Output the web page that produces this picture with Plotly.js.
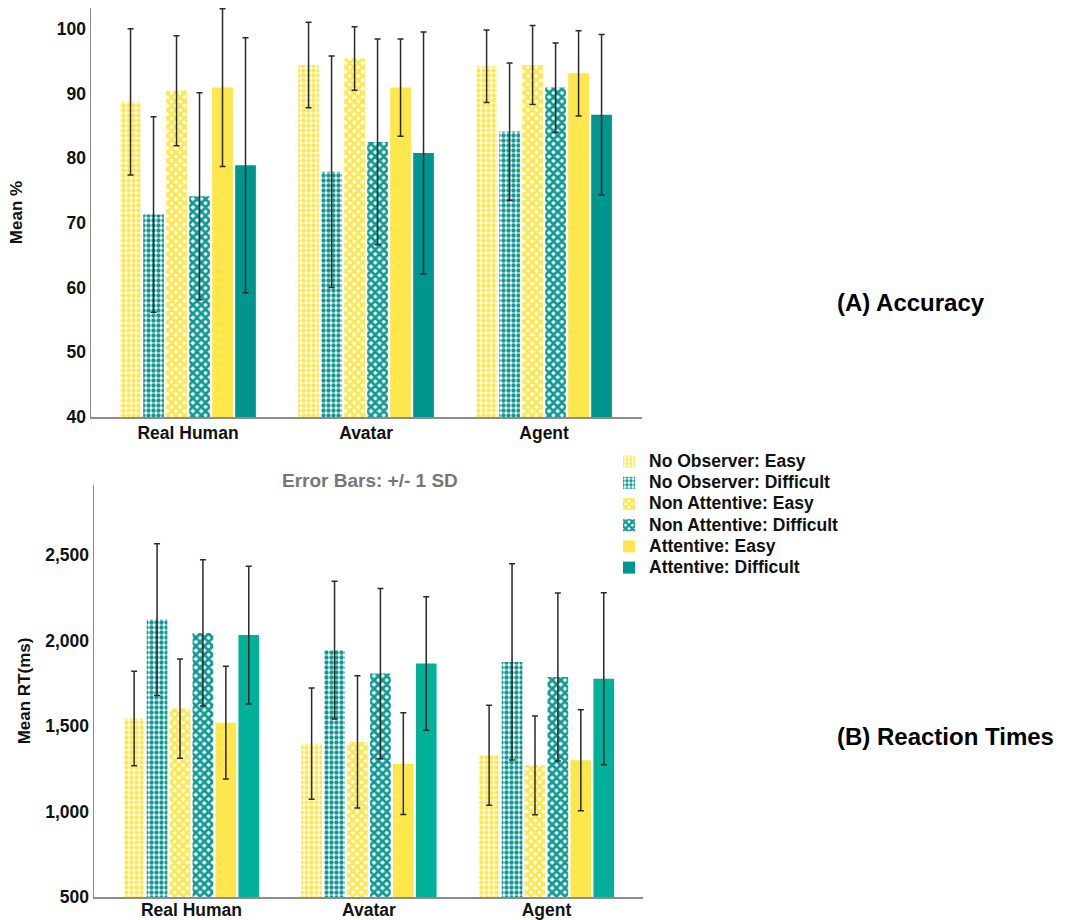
<!DOCTYPE html>
<html>
<head>
<meta charset="utf-8">
<script src="https://cdn.plot.ly/plotly-3.0.1.min.js"></script>
<style>html,body{margin:0;padding:0;background:#fff;}#chart{width:1069px;height:920px;}</style>
</head>
<body>
<div id="chart"></div>
<script>
// ---------- data ----------
const categories = ['Real Human', 'Avatar', 'Agent'];
const seriesNames = ['No Observer: Easy', 'No Observer: Difficult', 'Non Attentive: Easy',
                     'Non Attentive: Difficult', 'Attentive: Easy', 'Attentive: Difficult'];

// (A) Accuracy, mean % and SD
const accNoObsEasy = [88.7, 94.4, 94.2];
const accNoObsEasySD = [11.3, 6.6, 5.6];
const accNoObsDiff = [71.3, 77.9, 84.1];
const accNoObsDiffSD = [15.1, 17.9, 10.6];
const accNonAttEasy = [90.4, 95.4, 94.4];
const accNonAttEasySD = [8.5, 4.9, 6.1];
const accNonAttDiff = [74.1, 82.5, 90.9];
const accNonAttDiffSD = [16.0, 15.9, 6.9];
const accAttEasy = [90.9, 90.9, 93.1];
const accAttEasySD = [12.2, 7.5, 6.6];
const accAttDiff = [78.9, 80.8, 86.7];
const accAttDiffSD = [19.7, 18.7, 12.4];

// (B) Reaction times, mean ms and SD
const rtNoObsEasy = [1544, 1397, 1329];
const rtNoObsEasySD = [276, 325, 293];
const rtNoObsDiff = [2123, 1944, 1875];
const rtNoObsDiffSD = [444, 403, 574];
const rtNonAttEasy = [1602, 1407, 1270];
const rtNonAttEasySD = [290, 387, 289];
const rtNonAttDiff = [2045, 1807, 1787];
const rtNonAttDiffSD = [428, 498, 491];
const rtAttEasy = [1520, 1280, 1300];
const rtAttEasySD = [330, 298, 295];
const rtAttDiff = [2032, 1866, 1776];
const rtAttDiffSD = [403, 390, 503];

const accTickVals = [40, 50, 60, 70, 80, 90, 100];
const rtTickVals = [500, 1000, 1500, 2000, 2500];

// ---------- styles ----------
const FONT = '"Liberation Sans", Arial, sans-serif';
const YEL = '#FDE74C';
const TEAL = '#0E9A94';
const TEAL_SOLID_A = '#00958F';
const TEAL_SOLID_B = '#00B098';

function markerFor(idx, solidTeal) {
  const isEasy = idx % 2 === 0;
  const col = isEasy ? YEL : TEAL;
  if (idx < 2) return {color: '#ffffff', pattern: {shape: '.', fgcolor: col, bgcolor: '#ffffff', size: 5, solidity: 0.6, fillmode: 'replace'}};
  if (idx < 4) return {color: '#ffffff', pattern: {shape: 'x', fgcolor: col, bgcolor: '#ffffff', size: 6, solidity: 0.72, fillmode: 'replace'}};
  return {color: isEasy ? YEL : solidTeal};
}

const accSeries = [accNoObsEasy, accNoObsDiff, accNonAttEasy, accNonAttDiff, accAttEasy, accAttDiff];
const accSD = [accNoObsEasySD, accNoObsDiffSD, accNonAttEasySD, accNonAttDiffSD, accAttEasySD, accAttDiffSD];
const rtSeries = [rtNoObsEasy, rtNoObsDiff, rtNonAttEasy, rtNonAttDiff, rtAttEasy, rtAttDiff];
const rtSD = [rtNoObsEasySD, rtNoObsDiffSD, rtNonAttEasySD, rtNonAttDiffSD, rtAttEasySD, rtAttDiffSD];

const errStyle = {type: 'data', visible: true, color: '#2a2a2a', thickness: 1.5, width: 3};

const traces = [];
accSeries.forEach((vals, i) => {
  traces.push({
    type: 'bar', x: categories, y: vals, name: '<span style="font-size:17.5px">' + seriesNames[i] + '</span>',
    xaxis: 'x', yaxis: 'y', marker: markerFor(i, TEAL_SOLID_A),
    error_y: Object.assign({array: accSD[i]}, errStyle),
    legendgroup: 'g' + i, showlegend: true, hoverinfo: 'y'
  });
});
rtSeries.forEach((vals, i) => {
  traces.push({
    type: 'bar', x: categories, y: vals, name: seriesNames[i],
    xaxis: 'x2', yaxis: 'y2', marker: markerFor(i, TEAL_SOLID_B),
    error_y: Object.assign({array: rtSD[i]}, errStyle),
    legendgroup: 'g' + i, showlegend: false, hoverinfo: 'y'
  });
});

const W = 1069, H = 920;
const px = v => v / W;
const py = v => 1 - v / H;

const axisCommon = {
  showgrid: false, zeroline: false, showline: true, linecolor: '#8c8c8c', linewidth: 1.5,
  ticks: '', tickfont: {family: FONT, size: 17.5, color: '#111', weight: 700}, automargin: false, fixedrange: true
};

const layout = {
  width: W, height: H,
  margin: {l: 0, r: 0, t: 0, b: 0, pad: 0},
  paper_bgcolor: '#ffffff', plot_bgcolor: '#ffffff',
  font: {family: FONT, size: 17, color: '#111', weight: 700},
  barmode: 'group', bargap: 0.225, bargroupgap: 0.1,
  showlegend: true,
  legend: {
    x: px(609), xanchor: 'left', y: py(446), yanchor: 'top',
    bgcolor: 'rgba(0,0,0,0)', borderwidth: 0,
    font: {family: FONT, size: 14, color: '#111', weight: 700},
    traceorder: 'normal'
  },
  xaxis: Object.assign({}, axisCommon, {
    domain: [px(91), px(642)], anchor: 'y', range: [-0.545, 2.55], type: 'category', ticklabelstandoff: -1
  }),
  yaxis: Object.assign({}, axisCommon, {
    domain: [py(417), py(8)], anchor: 'x', range: [40, 103.2],
    tickvals: accTickVals, ticktext: accTickVals.map(String),
    title: {text: 'Mean %', font: {family: FONT, size: 17, color: '#111', weight: 700}, standoff: 30}
  }),
  xaxis2: Object.assign({}, axisCommon, {
    domain: [px(94), px(643)], anchor: 'y2', range: [-0.549, 2.544], type: 'category', ticklabelstandoff: -4
  }),
  yaxis2: Object.assign({}, axisCommon, {
    domain: [py(897), py(485)], anchor: 'x2', range: [500, 2910],
    tickvals: rtTickVals, tickformat: ',d',
    title: {text: 'Mean RT(ms)', font: {family: FONT, size: 17, color: '#111', weight: 700}, standoff: 10}
  }),
  annotations: [
    {text: '(A) Accuracy', xref: 'paper', yref: 'paper', x: px(835), y: py(302), xanchor: 'left', yanchor: 'middle',
     showarrow: false, font: {family: FONT, size: 24, color: '#000', weight: 700}},
    {text: '(B) Reaction Times', xref: 'paper', yref: 'paper', x: px(835), y: py(736), xanchor: 'left', yanchor: 'middle',
     showarrow: false, font: {family: FONT, size: 24, color: '#000', weight: 700}},
    {text: 'Error Bars: +/- 1 SD', xref: 'paper', yref: 'paper', x: px(370), y: py(480), xanchor: 'center', yanchor: 'middle',
     showarrow: false, font: {family: FONT, size: 19, color: '#777777', weight: 700}}
  ]
};

Plotly.newPlot('chart', traces, layout, {displayModeBar: false, staticPlot: true});
</script>
</body>
</html>
